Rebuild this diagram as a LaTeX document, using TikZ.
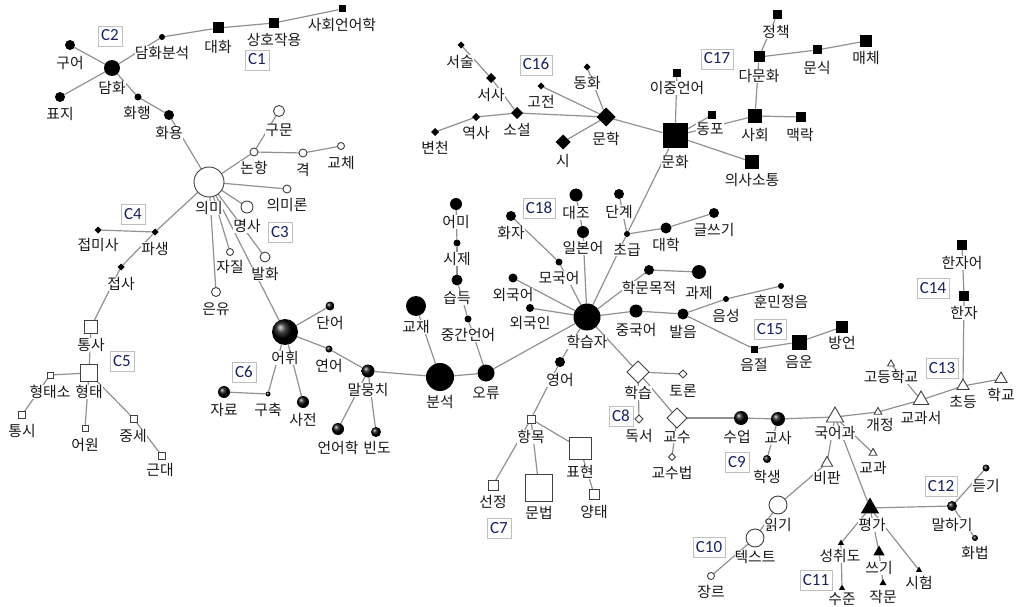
\documentclass[tikz,border=0pt]{standalone}
\usepackage{fontspec}
\newfontfamily\kr{Noto Sans CJK KR}
\newfontfamily\carl{Carlito}
\usetikzlibrary{shapes.geometric}
\pgfdeclarelayer{edges}
\pgfdeclarelayer{labels}
\pgfsetlayers{edges,labels,main}
\definecolor{edgec}{RGB}{145,145,145}
\definecolor{cnavy}{RGB}{25,35,95}
\newcommand\nd[6]{\node[#3,minimum size=#4pt] (#1) at (#2) {};\begin{pgfonlayer}{labels}\node[lbl] (#1-t) at (#5) {#6};\end{pgfonlayer}}
\newcommand\cb[3]{\node[cbox] (#1) at (#2) {#3};}
\begin{document}
\begin{tikzpicture}[x=1pt,y=-1pt,
  base/.style={inner sep=0pt,outer sep=0pt},
  bc/.style={base,circle,fill=black},
  oc/.style={base,circle,fill=white,draw=black!75,line width=0.9pt},
  bs/.style={base,rectangle,fill=black},
  os/.style={base,rectangle,fill=white,draw=black!75,line width=0.9pt},
  bd/.style={base,diamond,aspect=1,fill=black},
  od/.style={base,diamond,aspect=1,fill=white,draw=black!75,line width=0.9pt},
  sph/.style={base,circle,shading=ball,ball color=black},
  bt/.style={base,regular polygon,regular polygon sides=3,fill=black},
  ot/.style={base,regular polygon,regular polygon sides=3,fill=white,draw=black!75,line width=0.9pt},
  lbl/.style={base,fill=white,font=\kr\fontsize{14.8}{15}\selectfont,text=black!90},
  cbox/.style={draw=black!25,fill=white,text=cnavy,font=\carl\fontsize{17}{17}\selectfont,inner xsep=3pt,inner ysep=4pt,text height=11pt,text depth=1pt},
  edge/.style={draw=edgec,line width=1.2pt}
]
\useasboundingbox (0,0) rectangle (1018,607);
% C1 / C2
\nd{sle}{342,9}{bs}{7}{342,25}{사회언어학}
\nd{shj}{274,23}{bs}{10}{274,40}{상호작용}
\nd{dh}{218,28}{bs}{11}{218,47}{대화}
\nd{dhbs}{162,37}{bc}{6}{162,53}{담화분석}
\nd{dmh}{112,68}{bc}{16}{112,88}{담화}
\nd{gua}{70,45}{bc}{10}{70,63}{구어}
\nd{pj}{60,97}{bc}{10}{60,114}{표지}
\nd{hh}{138,97}{bc}{7}{137,113}{화행}
\nd{hy}{169,115}{bc}{10}{169,133}{화용}
% C3
\nd{uimi}{209,182}{oc}{30}{209,208}{의미}
\nd{gumun}{279,111}{oc}{11}{279,130}{구문}
\nd{nonhang}{254,152}{oc}{8}{254,168}{논항}
\nd{gyeok}{303,153}{oc}{8}{303,170}{격}
\nd{gyoche}{341,146}{oc}{7}{341,163}{교체}
\nd{uimiron}{287,189}{oc}{8}{287,205}{의미론}
\nd{myeongsa}{247,207}{oc}{12}{247,226}{명사}
\nd{jajil}{230,252}{oc}{7}{230,267}{자질}
\nd{balhwa}{265,257}{oc}{10}{265,274}{발화}
\nd{eunyu}{216,292}{oc}{9}{216,309}{은유}
% C4
\nd{pasaeng}{155,232}{bd}{7}{155,249}{파생}
\nd{jeopmisa}{98,230}{bd}{7}{98,245}{접미사}
\nd{jeopsa}{121,267}{bd}{7}{121,284}{접사}
% C5
\nd{tongsa}{91,327}{os}{13}{91,345}{통사}
\nd{hyeongtae}{89,373}{os}{17}{89,392}{형태}
\nd{hyeongtaeso}{50,375}{os}{6}{50,392}{형태소}
\nd{tongsi}{22,415}{os}{7}{22,431}{통시}
\nd{eowon}{85,428}{os}{6}{85,445}{어원}
\nd{jungse}{134,419}{os}{7}{133,436}{중세}
\nd{geundae}{162,456}{os}{7}{160,470}{근대}
% C6
\nd{eohwi}{285,332}{sph}{26}{285,358}{어휘}
\nd{daneo}{330,306}{sph}{9}{330,323}{단어}
\nd{yeoneo}{329,349}{sph}{7}{329,366}{연어}
\nd{malmungchi}{368,371}{sph}{13}{368,390}{말뭉치}
\nd{jaryo}{224,392}{sph}{12}{224,410}{자료}
\nd{guchuk}{268,394}{sph}{5}{268,410}{구축}
\nd{sajeon}{303,402}{sph}{12}{303,420}{사전}
\nd{eoneohak}{338,429}{sph}{12}{338,448}{언어학}
\nd{bindo}{376,432}{sph}{10}{377,448}{빈도}
% C18
\nd{bunseok}{440,377}{bc}{28}{440,402}{분석}
\nd{gyojae}{416,306}{bc}{20}{416,327}{교재}
\nd{oryu}{486,373}{bc}{17}{486,393}{오류}
\nd{junggan}{468,319}{bc}{7}{468,335}{중간언어}
\nd{seupdeuk}{457,280}{bc}{11}{457,298}{습득}
\nd{sije}{457,243}{bc}{7}{457,259}{시제}
\nd{eomi}{456,204}{bc}{12}{456,222}{어미}
\nd{hakseupja}{587,317}{bc}{27}{587,342}{학습자}
\nd{hwaja}{511,216}{bc}{10}{511,233}{화자}
\nd{daejo}{576,195}{bc}{13}{576,213}{대조}
\nd{ilboneo}{583,232}{bc}{12}{583,248}{일본어}
\nd{dangye}{619,194}{bc}{10}{619,212}{단계}
\nd{chogeup}{627,234}{bc}{6}{627,250}{초급}
\nd{daehak}{666,228}{bc}{11}{666,245}{대학}
\nd{geulsseugi}{714,213}{bc}{10}{714,230}{글쓰기}
\nd{mogugeo}{559,262}{bc}{7}{559,278}{모국어}
\nd{oegugeo}{513,278}{bc}{9}{513,295}{외국어}
\nd{oegugin}{530,308}{bc}{8}{530,323}{외국인}
\nd{hakmun}{649,270}{bc}{10}{649,288}{학문목적}
\nd{gwaje}{699,272}{bc}{14}{699,293}{과제}
\nd{junggugeo}{636,311}{bc}{13}{636,330}{중국어}
\nd{bareum}{683,314}{bc}{11}{683,332}{발음}
\nd{eumseong}{726,299}{bc}{6}{726,316}{음성}
\nd{hunmin}{781,286}{bc}{6}{781,302}{훈민정음}
\nd{yeongeo}{560,362}{bc}{10}{560,380}{영어}
% C15
\nd{eumjeol}{754,349}{bs}{7}{754,365}{음절}
\nd{eumun}{799,342}{bs}{15}{799,362}{음운}
\nd{bangeon}{842,327}{bs}{12}{842,343}{방언}
% C7
\nd{hangmok}{531,419}{os}{8}{531,437}{항목}
\nd{pyohyeon}{580,448}{os}{22}{580,472}{표현}
\nd{yangtae}{594,494}{os}{10}{594,512}{양태}
\nd{munbeop}{539,488}{os}{27}{539,513}{문법}
\nd{seonjeong}{493,485}{os}{10}{493,502}{선정}
% C8
\nd{hakseup}{638,372}{od}{22}{638,393}{학습}
\nd{toron}{683,374}{od}{8}{683,391}{토론}
\nd{dokseo}{639,419}{od}{8}{639,436}{독서}
\nd{gyosu}{677,418}{od}{20}{677,437}{교수}
\nd{gyosubeop}{672,457}{od}{7}{672,473}{교수법}
% C9
\nd{sueop}{741,418}{sph}{14}{737,437}{수업}
\nd{gyosa}{778,419}{sph}{14}{778,438}{교사}
\nd{haksaeng}{767,459}{sph}{8}{767,477}{학생}
% C13
\nd{gugeogwa}{835,417}{ot}{20}{835,433}{국어과}
\nd{gaejeong}{878,412}{ot}{9}{880,425}{개정}
\nd{gyogwaseo}{921,400}{ot}{18}{921,418}{교과서}
\nd{gyogwa}{873,453}{ot}{9}{873,468}{교과}
\nd{bipan}{827,463}{ot}{13}{827,478}{비판}
\nd{godeung}{891,364}{ot}{8}{891,377}{고등학교}
\nd{chodeung}{963,386}{ot}{14}{963,402}{초등}
\nd{hakgyo}{1001,379}{ot}{14}{1001,395}{학교}
% C10
\nd{ilgi}{778,505}{oc}{18}{778,525}{읽기}
\nd{text}{755,538}{oc}{18}{755,557}{텍스트}
\nd{jangreu}{711,576}{oc}{7}{711,592}{장르}
% C11
\nd{pyeongga}{870,508}{bt}{21}{872,525}{평가}
\nd{seongchwido}{841,543}{bt}{7}{840,556}{성취도}
\nd{sseugi}{879,552}{bt}{13}{879,568}{쓰기}
\nd{jakmun}{883,583}{bt}{8}{883,597}{작문}
\nd{siheom}{919,570}{bt}{7}{919,583}{시험}
\nd{sujun}{842,588}{bt}{7}{842,599}{수준}
% C12
\nd{malhagi}{952,506}{sph}{10}{952,525}{말하기}
\nd{deutgi}{986,468}{sph}{7}{986,486}{듣기}
\nd{hwabeop}{975,538}{sph}{6}{975,553}{화법}
% C14
\nd{hanjaeo}{962,245}{bs}{10}{962,263}{한자어}
\nd{hanja}{964,296}{bs}{10}{964,313}{한자}
% C16
\nd{seosul}{461,45}{bd}{7}{460,62}{서술}
\nd{seosa}{491,78}{bd}{10}{491,95}{서사}
\nd{soseol}{517,113}{bd}{12}{517,130}{소설}
\nd{yeoksa}{476,117}{bd}{8}{476,133}{역사}
\nd{byeoncheon}{435,132}{bd}{8}{435,148}{변천}
\nd{gojeon}{541,86}{bd}{7}{541,102}{고전}
\nd{donghwa}{587,67}{bd}{7}{587,83}{동화}
\nd{munhak}{606,117}{bd}{19}{606,139}{문학}
\nd{si}{563,142}{bd}{15}{563,161}{시}
% C17
\nd{munhwa}{675,136}{bs}{25}{675,162}{문화}
\nd{ijung}{677,73}{bs}{8}{677,88}{이중언어}
\nd{dongpo}{712,115}{bs}{8}{710,129}{동포}
\nd{sahoe}{755,116}{bs}{14}{755,135}{사회}
\nd{maengnak}{801,117}{bs}{10}{800,135}{맥락}
\nd{uisa}{752,162}{bs}{14}{752,180}{의사소통}
\nd{damunhwa}{759,57}{bs}{11}{759,76}{다문화}
\nd{jeongchaek}{777,15}{bs}{9}{776,32}{정책}
\nd{munsik}{817,50}{bs}{9}{817,68}{문식}
\nd{maeche}{866,41}{bs}{12}{866,58}{매체}
% cluster boxes
\cb{c1}{257,60}{C1}
\cb{c2}{110,36}{C2}
\cb{c3}{280,232}{C3}
\cb{c4}{133,214}{C4}
\cb{c5}{122,361}{C5}
\cb{c6}{244,372}{C6}
\cb{c7}{499,528}{C7}
\cb{c8}{621,416}{C8}
\cb{c9}{737,462}{C9}
\cb{c10}{709,547}{C10}
\cb{c11}{816,580}{C11}
\cb{c12}{941,486}{C12}
\cb{c13}{942,368}{C13}
\cb{c14}{933,288}{C14}
\cb{c15}{770,329}{C15}
\cb{c16}{536,65}{C16}
\cb{c17}{717,59}{C17}
\cb{c18}{539,208}{C18}
\begin{pgfonlayer}{edges}
\foreach \a/\b in {dhbs/dh,dh/shj,shj/sle,dmh/dhbs,dmh/gua,dmh/pj,dmh/hh,hh/hy,hy/uimi,
 uimi/nonhang,nonhang/gumun,nonhang/gyeok,gyeok/gyoche,uimi/uimiron,uimi/myeongsa,uimi/jajil,uimi/eunyu,uimi/balhwa,uimi/eohwi,uimi/pasaeng,
 pasaeng/jeopmisa,pasaeng/jeopsa,jeopsa/tongsa,tongsa/hyeongtae,hyeongtae/hyeongtaeso,hyeongtaeso/tongsi,hyeongtae/eowon,hyeongtae/jungse,jungse/geundae,
 eohwi/daneo,eohwi/yeoneo,yeoneo/malmungchi,eohwi/guchuk,guchuk/jaryo,eohwi/sajeon,malmungchi/eoneohak,malmungchi/bindo,malmungchi/bunseok,
 bunseok/gyojae,bunseok/oryu,oryu/junggan,junggan/seupdeuk,seupdeuk/sije,sije/eomi,oryu/hakseupja,
 hakseupja/mogugeo,mogugeo/hwaja,hakseupja/ilboneo,ilboneo/daejo,hakseupja/chogeup,chogeup/dangye,chogeup/daehak,daehak/geulsseugi,chogeup/munhwa,
 hakseupja/oegugeo,hakseupja/oegugin,hakseupja/hakmun,hakmun/gwaje,hakseupja/junggugeo,junggugeo/bareum,bareum/eumseong,eumseong/hunmin,
 bareum/eumjeol,eumjeol/eumun,eumun/bangeon,hakseupja/yeongeo,hakseupja/hakseup,
 yeongeo/hangmok,hangmok/seonjeong,hangmok/munbeop,hangmok/pyohyeon,pyohyeon/yangtae,
 hakseup/toron,hakseup/dokseo,hakseup/gyosu,gyosu/gyosubeop,gyosu/sueop,sueop/gyosa,gyosa/haksaeng,gyosa/gugeogwa,
 gugeogwa/gaejeong,gaejeong/gyogwaseo,gyogwaseo/godeung,gyogwaseo/chodeung,chodeung/hakgyo,chodeung/hanja,hanja/hanjaeo,
 gugeogwa/gyogwa,gugeogwa/bipan,bipan/ilgi,ilgi/text,text/jangreu,gugeogwa/pyeongga,pyeongga/malhagi,malhagi/deutgi,malhagi/hwabeop,
 pyeongga/seongchwido,seongchwido/sujun,pyeongga/sseugi,sseugi/jakmun,pyeongga/siheom,
 seosul/seosa,seosa/soseol,byeoncheon/yeoksa,yeoksa/soseol,soseol/munhak,gojeon/munhak,donghwa/munhak,si/munhak,munhak/munhwa,
 munhwa/ijung,munhwa/dongpo,munhwa/sahoe,sahoe/maengnak,sahoe/damunhwa,damunhwa/jeongchaek,damunhwa/munsik,munsik/maeche,munhwa/uisa}
 \draw[edge] (\a) -- (\b);
\end{pgfonlayer}
\end{tikzpicture}
\end{document}
